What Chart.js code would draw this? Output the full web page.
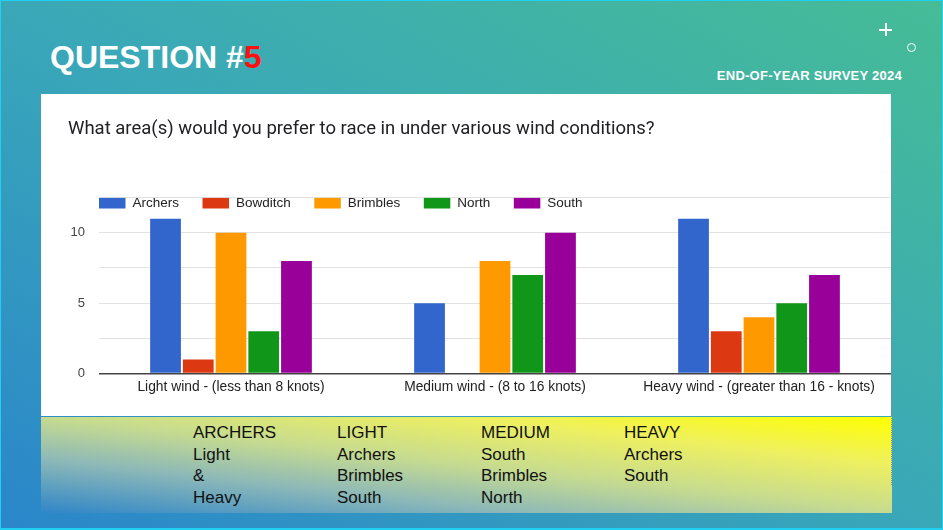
<!DOCTYPE html>
<html>
<head>
<meta charset="utf-8">
<script src="https://cdn.jsdelivr.net/npm/chart.js@4.4.1/dist/chart.umd.min.js"></script>
<style>
  html, body { margin: 0; padding: 0; }
  body { width: 943px; height: 530px; overflow: hidden; }
  .slide {
    position: relative; width: 943px; height: 530px; box-sizing: border-box;
    background: linear-gradient(to top right, #2a86ca 0%, #3aa8b8 50%, #46bc96 100%);
    border: 1px solid #1fd0f2; border-bottom-width: 2px;
    font-family: "Liberation Sans", Arial, sans-serif;
  }
  .heading {
    position: absolute; left: 49px; top: 40px; font-size: 32px; line-height: 32px;
    font-weight: bold; color: #fff; white-space: nowrap;
  }
  .heading span { color: #ff1010; }
  .survey {
    position: absolute; right: 40px; top: 68px; font-size: 13px; line-height: 13px;
    font-weight: bold; color: #fff; letter-spacing: 0.25px;
  }
  .plus { position: absolute; left: 878px; top: 28px; width: 13px; height: 1.6px; background: #fff; }
  .plus2 { position: absolute; left: 884px; top: 22px; width: 1.6px; height: 13px; background: #fff; }
  .ring { position: absolute; left: 906px; top: 42px; width: 7px; height: 7px; border: 1.4px solid #fff; border-radius: 50%; }
  .panel { position: absolute; left: 40px; top: 93px; width: 850px; height: 322px; background: #fff; }
  .panel canvas { display: block; }
  .dots { position: absolute; left: 890px; top: 138px; height: 346px; border-left: 1px dotted #8a8a8a; }
  .notes {
    position: absolute; left: 40px; top: 416px; width: 851px; height: 96px;
    background: linear-gradient(to top right, #2f86c8 0%, #8cb8b8 28%, #c6db90 50%, #eef060 75%, #ffff00 100%);
  }
  .col { position: absolute; top: 5px; font-size: 17px; line-height: 21.5px; color: #111; }
</style>
</head>
<body>
<div class="slide">
  <div class="heading">QUESTION #<span>5</span></div>
  <div class="survey">END-OF-YEAR SURVEY 2024</div>
  <div class="plus"></div><div class="plus2"></div>
  <div class="ring"></div>
  <div class="panel"><canvas id="areaChart" width="850" height="322"></canvas></div>
  <div class="notes">
    <div class="col" style="left:152px">ARCHERS<br>Light<br>&amp;<br>Heavy</div>
    <div class="col" style="left:296px">LIGHT<br>Archers<br>Brimbles<br>South</div>
    <div class="col" style="left:440px">MEDIUM<br>South<br>Brimbles<br>North</div>
    <div class="col" style="left:583px">HEAVY<br>Archers<br>South</div>
  </div>
  <div class="dots"></div>
</div>
<script>
const question = 'What area(s) would you prefer to race in under various wind conditions?';
const windLabels = ['Light wind - (less than 8 knots)', 'Medium wind - (8 to 16 knots)', 'Heavy wind - (greater than 16 - knots)'];
const areaNames = ['Archers', 'Bowditch', 'Brimbles', 'North', 'South'];
const archers = [11, 5, 11];
const bowditch = [1, 0, 3];
const brimbles = [10, 8, 4];
const north = [3, 7, 5];
const south = [8, 10, 7];
const areaColors = ['#3366cc', '#dc3912', '#ff9900', '#109618', '#990099'];

const seriesValues = [archers, bowditch, brimbles, north, south];

// legend sits inside the plot, just under the top gridline, like the google chart
const innerLegend = {
    id: 'innerLegend',
    afterDraw(chart) {
        const ctx = chart.ctx;
        const area = chart.chartArea;
        let x = area.left;
        const y = area.top + 5.5;
        ctx.save();
        ctx.font = '13.5px "Liberation Sans", Arial, sans-serif';
        ctx.textBaseline = 'middle';
        chart.data.datasets.forEach(ds => {
            ctx.fillStyle = ds.backgroundColor;
            ctx.fillRect(x, y - 5.3, 26.5, 10.6);
            x += 26.5 + 7;
            ctx.fillStyle = '#222';
            ctx.fillText(ds.label, x, y);
            x += ctx.measureText(ds.label).width + 23.5;
        });
        ctx.restore();
    }
};

new Chart(document.getElementById('areaChart'), {
    type: 'bar',
    data: {
        labels: windLabels,
        datasets: areaNames.map((name, i) => ({
            label: name,
            data: seriesValues[i],
            backgroundColor: areaColors[i],
            borderWidth: 0,
            categoryPercentage: 0.62,
            barPercentage: 0.94
        }))
    },
    options: {
        responsive: false,
        animation: false,
        layout: { padding: { left: 27, right: 0, top: 0, bottom: 16 } },
        plugins: {
            legend: { display: false },
            tooltip: { enabled: false },
            title: {
                display: true,
                text: question,
                align: 'start',
                color: '#202124',
                font: { family: 'Roboto', size: 18.5, weight: 'normal' },
                padding: { top: 24, bottom: 57.5 }
            }
        },
        scales: {
            x: {
                grid: { display: false, drawTicks: false },
                border: { display: false },
                ticks: {
                    color: '#222',
                    padding: 5,
                    font: { family: '"Liberation Sans", Arial', size: 13.8 }
                }
            },
            y: {
                min: 0,
                max: 12.5,
                afterFit: function(scale) {
                    scale.width = 31;
                },
                border: { display: false },
                grid: {
                    drawTicks: false,
                    color: ctx => ctx.tick.value === 0 ? '#444' : '#e2e2e2',
                    lineWidth: ctx => ctx.tick.value === 0 ? 1.5 : 1
                },
                ticks: {
                    stepSize: 2.5,
                    padding: 14,
                    color: '#444',
                    font: { family: '"Liberation Sans", Arial', size: 13 },
                    callback: function(value) {
                        return value % 5 === 0 ? value : '';
                    }
                }
            }
        }
    },
    plugins: [innerLegend]
});
</script>
</body>
</html>
